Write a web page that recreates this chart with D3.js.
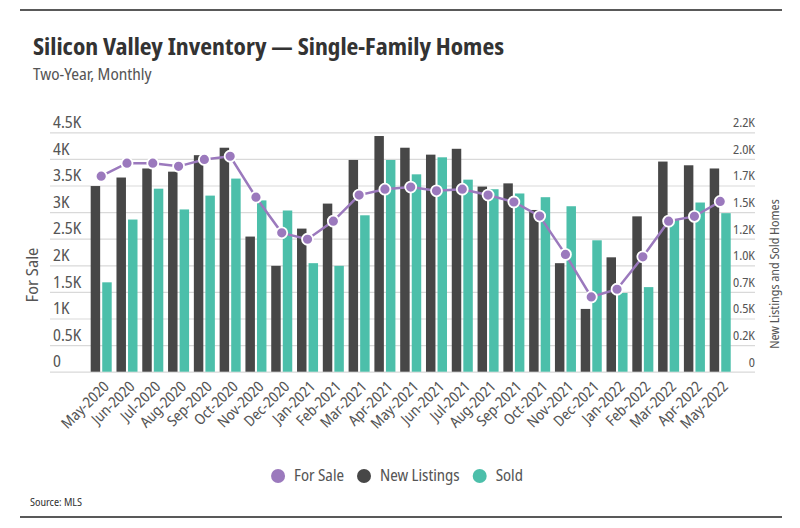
<!DOCTYPE html>
<html>
<head>
<meta charset="utf-8">
<script src="https://cdn.jsdelivr.net/npm/d3@7"></script>
<style>
  body { margin: 0; background: #fff; }
  svg text { font-family: "Noto Sans Display", "Roboto", sans-serif; font-stretch: condensed; fill: #444; }
</style>
</head>
<body>
<div id="chart"></div>
<script>
var months = ["May-2020","Jun-2020","Jul-2020","Aug-2020","Sep-2020","Oct-2020","Nov-2020","Dec-2020",
  "Jan-2021","Feb-2021","Mar-2021","Apr-2021","May-2021","Jun-2021","Jul-2021","Aug-2021","Sep-2021",
  "Oct-2021","Nov-2021","Dec-2021","Jan-2022","Feb-2022","Mar-2022","Apr-2022","May-2022"];

var forSale = [3675, 3920, 3920, 3860, 3990, 4050, 3280, 2610, 2490, 2830, 3320, 3430, 3470,
  3400, 3430, 3320, 3190, 2925, 2205, 1405, 1550, 2160, 2830, 2920, 3200];

var newListings = [1745, 1825, 1910, 1880, 2035, 2105, 1270, 995, 1345, 1580, 1990, 2215, 2105,
  2040, 2095, 1740, 1770, 1520, 1020, 590, 1075, 1460, 1975, 1940, 1910];

var sold = [840, 1430, 1720, 1525, 1655, 1815, 1610, 1515, 1020, 995, 1470, 1990, 1855,
  2015, 1805, 1715, 1675, 1640, 1555, 1235, 740, 795, 1430, 1590, 1490];

var leftTicks = [0, 500, 1000, 1500, 2000, 2500, 3000, 3500, 4000, 4500];
var leftLabels = ["0","0.5K","1K","1.5K","2K","2.5K","3K","3.5K","4K","4.5K"];
var rightTicks = [0, 250, 500, 750, 1000, 1250, 1500, 1750, 2000, 2250];
var rightLabels = ["0","0.2K","0.5K","0.7K","1.0K","1.2K","1.5K","1.7K","2.0K","2.2K"];

var legendItems = ["For Sale", "New Listings", "Sold"];
var colors = {forSale: "#9b79bd", newListings: "#474747", sold: "#4cbfaa"};

var width = 800, height = 528;
var plotTop = 132.3, plotBottom = 371.7, gridLeft = 50, gridRight = 755;

var svg = d3.select("#chart").append("svg")
    .attr("width", width)
    .attr("height", height);

// frame lines
svg.append("line").attr("x1", 20).attr("x2", 782).attr("y1", 10).attr("y2", 10)
    .style("stroke", "#222").style("stroke-width", 1.3);
svg.append("line").attr("x1", 20).attr("x2", 782).attr("y1", 517).attr("y2", 517)
    .style("stroke", "#222").style("stroke-width", 1.3);

svg.append("text").attr("x", 33).attr("y", 55)
    .style("font-size", "22.5px").style("font-weight", "bold").style("fill", "#333")
    .text("Silicon Valley Inventory \u2014 Single-Family Homes");
svg.append("text").attr("x", 33).attr("y", 80)
    .style("font-size", "16px").style("fill", "#555")
    .text("Two-Year, Monthly");

var x = d3.scaleBand()
    .domain(months)
    .range([88.3, 733.1])
    .paddingInner(0.185)
    .paddingOuter(0.0925);

var x1 = d3.scaleBand()
    .domain(["newListings", "sold"])
    .range([0, x.bandwidth()])
    .paddingInner(0.18);

var yL = d3.scaleLinear().domain([0, 4500]).range([plotBottom, plotTop]);
var yR = d3.scaleLinear().domain([0, 2250]).range([plotBottom, plotTop]);

// left axis + gridlines
svg.append("g")
    .attr("transform", "translate(" + gridLeft + ",0)")
    .call(d3.axisRight(yL).tickValues(leftTicks).tickSize(gridRight - gridLeft)
        .tickFormat(function(d, i) { return leftLabels[i]; }))
    .call(function(g) {
        g.select(".domain").remove();
        g.selectAll(".tick line").style("stroke", "#d9d9d9").style("stroke-width", 1.2);
        g.selectAll(".tick text").attr("x", 3).attr("dy", "-0.3em")
            .style("font-size", "16px").style("fill", "#555");
    });

// right axis labels
svg.append("g")
    .attr("transform", "translate(" + gridRight + ",0)")
    .call(d3.axisLeft(yR).tickValues(rightTicks).tickSize(0)
        .tickFormat(function(d, i) { return rightLabels[i]; }))
    .call(function(g) {
        g.select(".domain").remove();
        g.selectAll(".tick text").attr("x", 0).attr("dy", "-0.45em")
            .style("font-size", "12.5px").style("fill", "#555");
    });

// x axis
svg.append("g")
    .attr("transform", "translate(0," + plotBottom + ")")
    .call(d3.axisBottom(x).tickSize(0))
    .call(function(g) {
        g.select(".domain").remove();
        g.selectAll(".tick text")
            .attr("y", 0).attr("dy", "0.35em")
            .attr("transform", "translate(5,12) rotate(-45)")
            .style("text-anchor", "end")
            .style("font-size", "15px").style("fill", "#555");
    });

// bars
var groups = svg.append("g").attr("class", "bars")
    .selectAll("g")
    .data(months)
    .enter().append("g")
    .attr("transform", function(d) { return "translate(" + x(d) + ",0)"; });

groups.append("rect")
    .attr("x", x1("newListings"))
    .attr("width", x1.bandwidth())
    .attr("y", function(d, i) { return yR(newListings[i]); })
    .attr("height", function(d, i) { return plotBottom - yR(newListings[i]); })
    .style("fill", colors.newListings);

groups.append("rect")
    .attr("x", x1("sold"))
    .attr("width", x1.bandwidth())
    .attr("y", function(d, i) { return yR(sold[i]); })
    .attr("height", function(d, i) { return plotBottom - yR(sold[i]); })
    .style("fill", colors.sold);

// for sale line
var line = d3.line()
    .x(function(d, i) { return x(months[i]) + x.bandwidth() / 2; })
    .y(function(d) { return yL(d); });

svg.append("path")
    .datum(forSale)
    .attr("d", line)
    .style("fill", "none")
    .style("stroke", colors.forSale)
    .style("stroke-width", 2.5);

svg.append("g").selectAll("circle")
    .data(forSale)
    .enter().append("circle")
    .attr("cx", function(d, i) { return x(months[i]) + x.bandwidth() / 2; })
    .attr("cy", function(d) { return yL(d); })
    .attr("r", 5.5)
    .style("fill", colors.forSale)
    .style("stroke", "#fff")
    .style("stroke-width", 1.8);

// axis titles
svg.append("text")
    .attr("transform", "translate(38,275) rotate(-90)")
    .style("text-anchor", "middle").style("font-size", "17px").style("fill", "#555")
    .text("For Sale");
svg.append("text")
    .attr("transform", "translate(779,274) rotate(-90)")
    .style("text-anchor", "middle").style("font-size", "12.5px").style("fill", "#555")
    .text("New Listings and Sold Homes");

// legend, laid out from measured text widths and centred
var legend = svg.append("g").attr("transform", "translate(0,476)");
var legendColors = [colors.forSale, colors.newListings, colors.sold];
var cursor = 0;
legendItems.forEach(function(name, i) {
    var item = legend.append("g").attr("transform", "translate(" + cursor + ",0)");
    item.append("circle").attr("cx", 7).attr("r", 7).style("fill", legendColors[i]);
    var t = item.append("text").attr("x", 23).attr("dy", "0.35em")
        .style("font-size", "15.5px").style("fill", "#555")
        .text(name);
    cursor += 23 + t.node().getComputedTextLength() + 13;
});
var legendWidth = cursor - 13;
legend.attr("transform", "translate(" + (397 - legendWidth / 2) + ",476)");

svg.append("text").attr("x", 30).attr("y", 506)
    .style("font-size", "10.5px").style("fill", "#333")
    .text("Source:  MLS");
</script>
</body>
</html>
